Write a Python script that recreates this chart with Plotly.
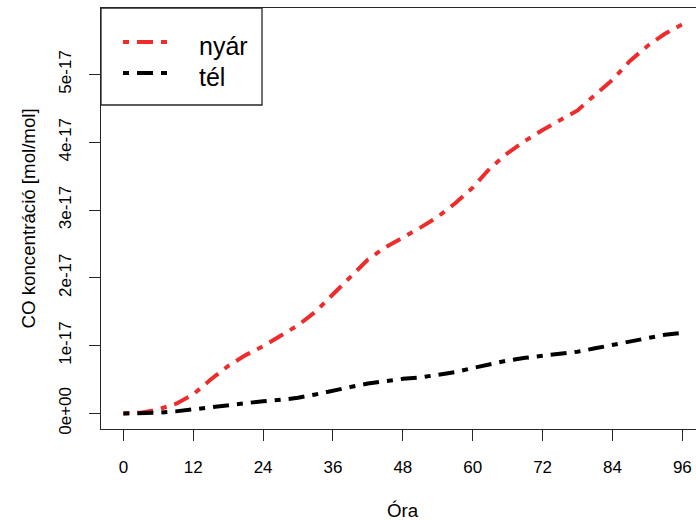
import plotly.graph_objects as go

# Hourly sampling (every 3 h) of CO concentration, mol/mol
hours = list(range(0, 97, 3))
nyar = [0.00, 0.01, 0.06, 0.14, 0.28, 0.50, 0.70, 0.86, 0.99, 1.15, 1.30,
        1.50, 1.76, 2.02, 2.27, 2.45, 2.59, 2.74, 2.90, 3.10, 3.33, 3.62,
        3.84, 4.02, 4.18, 4.32, 4.47, 4.70, 4.92, 5.20, 5.42, 5.60, 5.74]
tel = [0.00, 0.00, 0.01, 0.03, 0.06, 0.10, 0.13, 0.16, 0.18, 0.20, 0.23,
       0.28, 0.34, 0.39, 0.44, 0.48, 0.51, 0.53, 0.57, 0.61, 0.67, 0.73,
       0.78, 0.82, 0.85, 0.88, 0.91, 0.96, 1.01, 1.06, 1.12, 1.16, 1.19]
nyar = [v * 1e-17 for v in nyar]
tel = [v * 1e-17 for v in tel]

series_names = ["nyár", "tél"]
series_colors = ["#EE2C2C", "#000000"]

x_ticks = [0, 12, 24, 36, 48, 60, 72, 84, 96]
y_ticks = [0, 1e-17, 2e-17, 3e-17, 4e-17, 5e-17]
y_ticklabels = ["0e+00", "1e-17", "2e-17", "3e-17", "4e-17", "5e-17"]

W, H = 696, 520
ML, MR, MT, MB = 101, 0, 8, 91
PW, PH = W - ML - MR, H - MT - MB


def px_x(p):
    return (p - ML) / PW


def px_y(p):
    return (H - MB - p) / PH


DASH = "6px,8px,16px,8px"
FONT = "Liberation Sans, Arial, Helvetica, sans-serif"
AX = "#262626"

fig = go.Figure()
for name, ys, col in zip(series_names, [nyar, tel], series_colors):
    fig.add_trace(go.Scatter(x=hours, y=ys, mode="lines", name=name,
                             line=dict(color=col, width=4, dash=DASH),
                             showlegend=False))

axis_common = dict(showgrid=False, zeroline=False, showline=True,
                   linecolor=AX, linewidth=1.3, ticks="outside", ticklen=11,
                   tickwidth=1.3, tickcolor=AX,
                   tickfont=dict(family=FONT, size=17, color="black"))

fig.update_xaxes(range=[-3.84, 98.34], tickvals=x_ticks, mirror=True,
                 ticklabelstandoff=11, **axis_common)
fig.update_yaxes(range=[-0.23e-17, 5.98e-17], tickvals=y_ticks,
                 ticktext=y_ticklabels, tickangle=-90, ticklabelstandoff=11,
                 **axis_common)

# Legend box with line samples and labels
shapes = [dict(type="rect", xref="paper", yref="paper",
               x0=px_x(101), x1=px_x(262), y0=px_y(105), y1=px_y(8),
               line=dict(color=AX, width=1.3), fillcolor="white",
               layer="above")]
annotations = []
for i, (name, col) in enumerate(zip(series_names, series_colors)):
    ly = 42 + 31 * i
    shapes.append(dict(type="line", xref="paper", yref="paper",
                       x0=px_x(123), x1=px_x(169), y0=px_y(ly), y1=px_y(ly),
                       line=dict(color=col, width=4, dash=DASH),
                       layer="above"))
    annotations.append(dict(text=name, xref="paper", yref="paper",
                            x=px_x(197), y=px_y(ly + 4), xanchor="left",
                            yanchor="middle", showarrow=False,
                            font=dict(family=FONT, size=25, color="black")))

annotations.append(dict(text="Óra", xref="paper", yref="paper",
                        x=px_x(402.5), y=px_y(510), xanchor="center",
                        yanchor="middle", showarrow=False,
                        font=dict(family=FONT, size=18.7, color="black")))
annotations.append(dict(text="CO koncentráció [mol/mol]", xref="paper",
                        yref="paper", x=px_x(28), y=px_y(218.5),
                        xanchor="center", yanchor="middle", textangle=-90,
                        showarrow=False,
                        font=dict(family=FONT, size=18.7, color="black")))

fig.update_layout(width=W, height=H,
                  margin=dict(l=ML, r=MR, t=MT, b=MB, pad=0),
                  plot_bgcolor="white", paper_bgcolor="white",
                  shapes=shapes, annotations=annotations)

fig.write_html("out.html")
